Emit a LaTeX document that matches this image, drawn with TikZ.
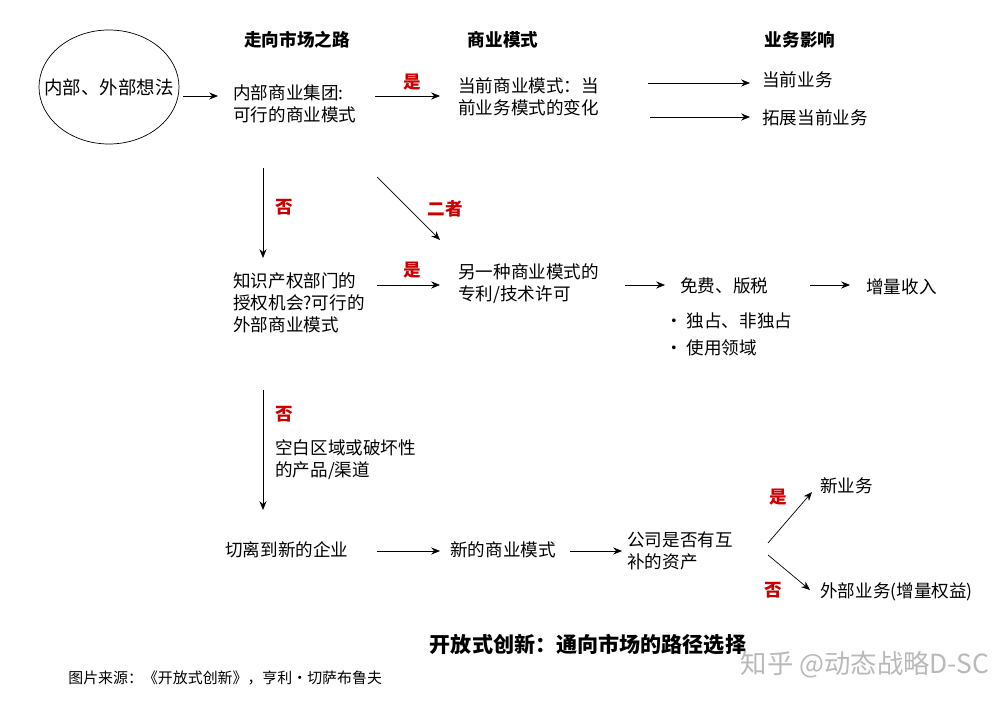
\documentclass[tikz,border=0pt]{standalone}
\usepackage{fontspec}
\setmainfont{Noto Sans CJK SC}
\usepackage{tikz}
\usetikzlibrary{positioning, arrows.meta, shapes.geometric}

\begin{document}
\begin{tikzpicture}[x=0.02cm, y=-0.02cm, >={Stealth[length=5pt,width=4pt]},
  txt/.style={anchor=west, align=left, font=\fontsize{10}{12.5}\selectfont, inner sep=0pt},
  head/.style={font=\fontsize{10}{12}\selectfont\bfseries},
  yes/.style={font=\fontsize{10}{12}\selectfont\bfseries, text=red!80!black},
  arr/.style={->, thin}]
\useasboundingbox (0,0) rectangle (995,706);

% ideas
\node[font=\fontsize{10.5}{12}\selectfont, inner sep=0pt] (idea) at (109,87) {内部、外部想法};
\draw (idea.center) ellipse [x radius=70, y radius=57];

\node[head] (h1) at (297,40) {走向市场之路};
\node[head] (h2) at (503,40) {商业模式};
\node[head] (h3) at (800,40) {业务影响};

% row 1
\node[txt] (int) at (233,104) {内部商业集团:\\可行的商业模式};
\node[txt] (cur) at (458,97) {当前商业模式：当\\前业务模式的变化};
\node[txt] (cb) at (762,80) {当前业务};
\node[txt] (ext) at (762,118) {拓展当前业务};

% row 2
\node[txt] (ip) at (233,303) {知识产权部门的\\授权机会?可行的\\外部商业模式};
\node[txt] (lic) at (458,284) {另一种商业模式的\\专利/技术许可};
\node[txt] (fee) at (680,286) {免费、版税};
\node[txt] (inc) at (866,287) {增量收入};
\node[txt] (b1) at (665,321) {• 独占、非独占};
\node[txt] (b2) at (665,348) {• 使用领域};
\node[txt] (gap) at (275,460) {空白区域或破坏性\\的产品/渠道};

% row 3
\node[txt] (spin) at (225,550) {切离到新的企业};
\node[txt] (nbm) at (450,550) {新的商业模式};
\node[txt] (asset) at (627,551) {公司是否有互\\补的资产};
\node[txt] (nb) at (820,486) {新业务};
\node[txt] (ob) at (820,592) {外部业务(增量权益)};

% connectors
\coordinate (a1) at (183,96); \coordinate (a2) at (218,96);
\coordinate (b1s) at (375,96); \coordinate (b1e) at (440,96);
\coordinate (c1s) at (648,83); \coordinate (c1e) at (750,83);
\coordinate (c2s) at (650,117); \coordinate (c2e) at (750,117);
\coordinate (d1s) at (263,168); \coordinate (d1e) at (263,258);
\coordinate (e1s) at (377,177); \coordinate (e1e) at (440,240);
\coordinate (f1s) at (377,285); \coordinate (f1e) at (440,285);
\coordinate (g1s) at (625,285); \coordinate (g1e) at (665,285);
\coordinate (g2s) at (810,285); \coordinate (g2e) at (850,285);
\coordinate (d2s) at (263,390); \coordinate (d2e) at (263,510);
\coordinate (h1s) at (377,551); \coordinate (h1e) at (440,551);
\coordinate (h2s) at (570,551); \coordinate (h2e) at (622,551);
\coordinate (k1s) at (768,543); \coordinate (k1e) at (812,492);
\coordinate (k2s) at (768,555); \coordinate (k2e) at (810,590);

\draw[arr] (a1) -- (a2);
\draw[arr] (b1s) -- (b1e);
\draw[arr] (c1s) -- (c1e);
\draw[arr] (c2s) -- (c2e);
\draw[arr] (d1s) -- (d1e);
\draw[arr] (e1s) -- (e1e);
\draw[arr] (f1s) -- (f1e);
\draw[arr] (g1s) -- (g1e);
\draw[arr] (g2s) -- (g2e);
\draw[arr] (d2s) -- (d2e);
\draw[arr] (h1s) -- (h1e);
\draw[arr] (h2s) -- (h2e);
\draw[arr] (k1s) -- (k1e);
\draw[arr] (k2s) -- (k2e);

% labels
\node[yes] (y1) at (412,82) {是};
\node[yes] (n1) at (284,207) {否};
\node[yes] (both) at (445,209) {二者};
\node[yes] (y2) at (412,270) {是};
\node[yes] (n2) at (284,414) {否};
\node[yes] (y3) at (778,497) {是};
\node[yes] (n3) at (773,590) {否};

\node[font=\fontsize{12}{14}\selectfont\bfseries] (title) at (588,645) {开放式创新：通向市场的路径选择};
\node[anchor=west, inner sep=0pt, font=\fontsize{8.5}{10}\selectfont] (src) at (68,678) {图片来源：《开放式创新》，亨利•切萨布鲁夫};
\node[font=\fontsize{15}{17}\selectfont, text=gray!55] (wm) at (865,665) {知乎 @动态战略D-SC};
\end{tikzpicture}
\end{document}
